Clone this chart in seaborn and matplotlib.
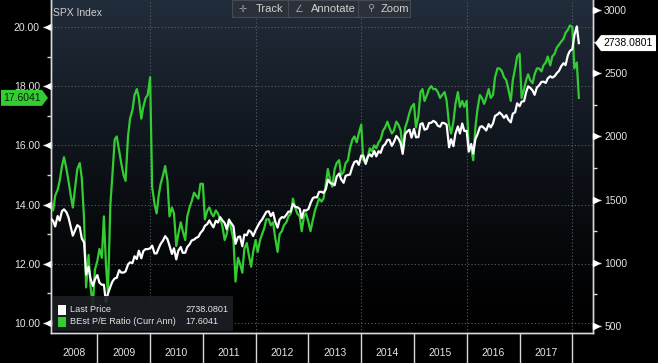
import numpy as np
import pandas as pd
import matplotlib
matplotlib.use("Agg")
import matplotlib.pyplot as plt
import matplotlib.dates as mdates
from matplotlib.patches import Polygon, Rectangle
from matplotlib.transforms import IdentityTransform
import seaborn as sns

# semi-monthly observations, 15 Feb 2008 .. 15 Feb 2018
dates = pd.date_range("2008-02-15", "2018-02-15", freq="SMS")

last_price = [
    1349, 1331, 1288, 1370, 1334, 1409, 1423, 1400, 1360, 1284, 1215, 1260, 1298, 1283, 1193, 1161, 907, 969, 873, 816, 869,
    903, 843, 826, 827, 690, 756, 811, 852, 877, 882, 942, 923, 923, 932, 987, 1004, 998, 1052, 1030, 1096, 1036, 1093, 1109, 1108,
    1115, 1136, 1074, 1075, 1115, 1150, 1178, 1211, 1187, 1136, 1070, 1115, 1027, 1096, 1125, 1079, 1080, 1125, 1146, 1176, 1184, 1197, 1206, 1236,
    1258, 1293, 1307, 1336, 1306, 1281, 1333, 1319, 1361, 1337, 1315, 1266, 1340, 1316, 1287, 1150, 1204, 1209, 1131, 1224, 1218, 1257, 1244, 1212,
    1258, 1289, 1324, 1343, 1374, 1403, 1408, 1370, 1397, 1330, 1278, 1342, 1362, 1357, 1380, 1405, 1406, 1465, 1444, 1440, 1427, 1353, 1416, 1413,
    1426, 1472, 1513, 1519, 1518, 1561, 1562, 1553, 1582, 1658, 1631, 1626, 1614, 1682, 1706, 1661, 1633, 1688, 1695, 1698, 1762, 1798, 1806, 1775,
    1848, 1848, 1782, 1838, 1859, 1841, 1885, 1842, 1883, 1870, 1924, 1937, 1973, 1973, 1925, 1955, 2003, 1984, 1946, 1862, 2018, 2039, 2053, 1990,
    2059, 1993, 1995, 2097, 2105, 2053, 2060, 2106, 2108, 2123, 2111, 2084, 2077, 2108, 2104, 2092, 1914, 1978, 1923, 2023, 2079, 2023, 2102, 2043,
    2044, 1880, 1940, 1865, 1978, 2015, 2073, 2081, 2065, 2047, 2097, 2071, 2103, 2162, 2173, 2190, 2171, 2147, 2168, 2133, 2111, 2180, 2191, 2262,
    2239, 2275, 2279, 2349, 2396, 2385, 2363, 2329, 2388, 2402, 2431, 2433, 2423, 2459, 2476, 2465, 2477, 2500, 2519, 2553, 2579, 2564, 2642, 2676,
    2690, 2800, 2870, 2738.0801,
]

pe_ratio = [
    13.9, 13.8, 14.3, 14.5, 14.8, 15.3, 15.6, 15.2, 14.8, 14.3, 13.9, 14.6, 15.2, 15.4, 14.9, 13.5, 11.2, 12.3, 11.2, 10.6, 11.8,
    12.1, 12.5, 12.2, 13.6, 12.0, 11.0, 14.0, 15.0, 16.2, 16.3, 15.8, 15.4, 15.0, 14.8, 16.3, 16.9, 17.2, 17.7, 17.9, 17.6, 16.9, 17.3, 17.6, 17.7,
    18.3, 14.6, 14.0, 13.7, 14.3, 14.7, 15.0, 15.3, 14.8, 13.6, 13.9, 13.7, 12.6, 13.0, 13.4, 13.1, 12.8, 13.6, 13.9, 14.1, 14.4, 14.3, 14.2, 14.7,
    14.7, 13.5, 13.8, 13.9, 13.7, 13.6, 13.8, 13.7, 13.5, 13.3, 12.8, 13.0, 13.5, 13.2, 12.8, 11.4, 12.2, 12.0, 11.7, 12.5, 12.7, 12.3, 11.9, 12.4,
    12.8, 12.4, 12.8, 13.0, 13.2, 13.5, 13.5, 13.3, 13.4, 12.9, 12.4, 13.0, 13.1, 13.3, 13.4, 13.6, 13.7, 14.2, 13.9, 13.7, 13.6, 13.1, 13.6, 13.7,
    13.4, 13.1, 13.5, 13.8, 14.0, 14.2, 14.1, 14.2, 14.7, 15.2, 14.8, 14.6, 15.2, 15.4, 15.5, 15.0, 15.1, 15.4, 15.5, 15.9, 16.2, 16.3, 16.1, 16.4,
    16.7, 15.5, 15.4, 15.6, 15.9, 15.8, 16.0, 15.9, 16.1, 16.2, 16.5, 16.6, 16.8, 16.6, 16.4, 16.5, 16.8, 16.7, 16.5, 15.8, 16.6, 16.8, 17.1, 17.3,
    17.4, 16.6, 17.0, 17.8, 17.9, 17.5, 17.7, 17.9, 18.0, 17.9, 17.9, 17.8, 17.6, 17.7, 17.8, 17.5, 16.7, 16.4, 16.8, 17.4, 17.8, 17.3, 17.5, 17.3,
    17.5, 15.9, 15.9, 15.5, 16.6, 17.2, 17.7, 17.6, 17.4, 17.6, 17.9, 17.6, 17.7, 18.3, 18.6, 18.6, 18.5, 18.3, 18.2, 17.9, 17.5, 18.2, 18.6, 19.0,
    19.1, 17.6, 17.9, 18.2, 18.4, 18.2, 18.1, 18.4, 18.6, 18.6, 18.5, 18.7, 18.8, 19.0, 18.7, 19.0, 19.1, 19.3, 19.4, 19.5, 19.6, 19.8, 19.9, 20.05,
    20.0, 18.6, 18.8, 17.6041,
]

years = list(range(2008, 2018))
pe_ticks = [10, 12, 14, 16, 18, 20]
price_ticks = [500, 1000, 1500, 2000, 2500, 3000]

GREEN = "#33cc33"
TXT = "#e4e4e4"
plt.rcParams["font.family"] = ["Liberation Sans", "DejaVu Sans"]

W, H = 658, 363
fig = plt.figure(figsize=(W / 100, H / 100), dpi=100, facecolor="black")
ax = fig.add_axes([51 / W, 30 / H, 542 / W, 333 / H])
ax2 = ax.twinx()

# background gradient
grad = np.linspace(1, 0, 256).reshape(-1, 1)
top = np.array([34, 45, 60]) / 255
bot = np.array([0, 0, 0]) / 255
rgb = bot + (top - bot) * (grad[..., None] ** 1.3)
ax.imshow(rgb, extent=[0, 1, 0, 1], transform=ax.transAxes, aspect="auto", zorder=0)

sns.lineplot(x=dates, y=pe_ratio, ax=ax, color=GREEN, linewidth=1.6, zorder=3)
sns.lineplot(x=dates, y=last_price, ax=ax2, color="white", linewidth=1.6, zorder=3)
for a in (ax, ax2):
    a.set_xlabel("")
    a.set_ylabel("")

x0, x1 = pd.Timestamp("2008-02-15"), pd.Timestamp("2018-05-24")
ax.set_xlim(x0, x1)
ax.set_ylim(9.66, 20.91)
ax2.set_ylim(445, 3079)

# grid
ax.set_yticks(pe_ticks)
ax.grid(axis="y", color="#5a5f68", linestyle=(0, (1, 2)), linewidth=0.8)
for y in range(2010, 2019, 2):
    ax.axvline(pd.Timestamp(f"{y}-01-01"), color="#5a5f68", linestyle=(0, (1, 2)), linewidth=0.8, zorder=1)

# x axis: year separators and centred labels
ax.set_xticks([pd.Timestamp(f"{y}-01-01") for y in range(2009, 2019)])
ax.set_xticklabels([])
ax.tick_params(axis="x", which="major", direction="out", length=22, width=1, colors="#d8d8d8")
centers = [pd.Timestamp("2008-07-24")] + [pd.Timestamp(f"{y}-07-02") for y in years[1:]]
ax.set_xticks(centers, minor=True)
ax.set_xticklabels([str(y) for y in years], minor=True)
ax.tick_params(axis="x", which="minor", length=0, pad=11, labelsize=7.5, labelcolor=TXT)

# left axis
ax.set_yticklabels([f"{v:.2f}" for v in pe_ticks])
ax.set_yticks([11, 13, 15, 17, 19], minor=True)
ax.tick_params(axis="y", which="major", length=6, width=1, pad=2, colors="#d8d8d8", labelsize=7.5, labelcolor=TXT)
ax.tick_params(axis="y", which="minor", length=3, width=1, colors="#d8d8d8")
ax.plot([-0.006] * len(pe_ticks), pe_ticks, ls="none", marker="<", ms=4, color="white",
        transform=ax.get_yaxis_transform(), clip_on=False, zorder=6)

# right axis
ax2.set_yticks(price_ticks)
ax2.set_yticklabels([str(v) for v in price_ticks])
ax2.set_yticks([750, 1250, 1750, 2250, 2750], minor=True)
ax2.tick_params(axis="y", which="major", length=6, width=1, pad=2, colors="#d8d8d8", labelsize=7.5, labelcolor=TXT)
ax2.tick_params(axis="y", which="minor", length=3, width=1, colors="#d8d8d8")
ax2.plot([1.006] * len(price_ticks), price_ticks, ls="none", marker=">", ms=4, color="white",
         transform=ax2.get_yaxis_transform(), clip_on=False, zorder=6)

for a in (ax, ax2):
    a.spines["top"].set_visible(False)
    for s in ("left", "right", "bottom"):
        a.spines[s].set_color("#d8d8d8")
        a.spines[s].set_linewidth(1)

ax.text(0.004, 0.962, "SPX Index", transform=ax.transAxes, color="#cfcfcf", fontsize=7.5, va="center")

# legend box
def axc(px, py):
    return (px - 51) / 542, (333 - py) / 333

lx, ly = axc(53, 331)
ax2.add_patch(Rectangle((lx, ly), 180 / 542, 35 / 333, transform=ax2.transAxes,
                        facecolor="#1b1e23", edgecolor="none", alpha=0.92, zorder=8))
for py, col, name, val in [(310, "white", "Last Price", f"{last_price[-1]:.4f}"),
                           (321.5, GREEN, "BEst P/E Ratio (Curr Ann)", f"{pe_ratio[-1]:.4f}")]:
    sx, sy = axc(58, py + 5)
    ax2.add_patch(Rectangle((sx, sy), 8 / 542, 10 / 333, transform=ax2.transAxes,
                            facecolor=col, edgecolor="none", zorder=9))
    tx, ty = axc(70, py)
    ax2.text(tx, ty, name, transform=ax2.transAxes, color=TXT, fontsize=6.6, va="center", zorder=9)
    vx, _ = axc(185, py)
    ax2.text(vx, ty, val, transform=ax2.transAxes, color=TXT, fontsize=6.6, va="center", zorder=9)

# last value tags
fig.canvas.draw()
ident = IdentityTransform()
ypr = ax2.transData.transform((0, last_price[-1]))[1]
tag = Polygon([(595, ypr), (601, ypr + 8), (656, ypr + 8), (656, ypr - 8), (601, ypr - 8)],
              closed=True, facecolor="white", edgecolor="none", transform=ident)
fig.add_artist(tag)
fig.text(628.5 / W, ypr / H, f"{last_price[-1]:.4f}", color="black", fontsize=7.5, ha="center", va="center")

ype = ax.transData.transform((0, pe_ratio[-1]))[1]
tag = Polygon([(1, ype + 8), (42, ype + 8), (48, ype), (42, ype - 8), (1, ype - 8)],
              closed=True, facecolor=GREEN, edgecolor="none", transform=ident)
fig.add_artist(tag)
fig.text(22 / W, ype / H, f"{pe_ratio[-1]:.4f}", color="#062006", fontsize=7.5, ha="center", va="center")

# toolbar
fig.add_artist(Rectangle((232 / W, 1 - 17 / H), 178 / W, 17 / H, transform=fig.transFigure,
                         facecolor="#2c3139", edgecolor="#454b54", linewidth=0.8))
for sx in (288, 358):
    fig.add_artist(plt.Line2D([sx / W, sx / W], [1 - 17 / H, 1], color="#454b54", linewidth=0.8))
for cx, txt in [(243, "\u271b"), (299, "\u2220"), (371, "\u26b2")]:
    fig.text(cx / W, 1 - 8.5 / H, txt, color="#9a9ea4", fontsize=7, ha="center", va="center",
             family=["DejaVu Sans"])
for cx, txt in [(270, "Track"), (333, "Annotate"), (395, "Zoom")]:
    fig.text(cx / W, 1 - 8.5 / H, txt, color="#d0d0d0", fontsize=8, ha="center", va="center")

fig.savefig("out.png", dpi=100, facecolor="black")
